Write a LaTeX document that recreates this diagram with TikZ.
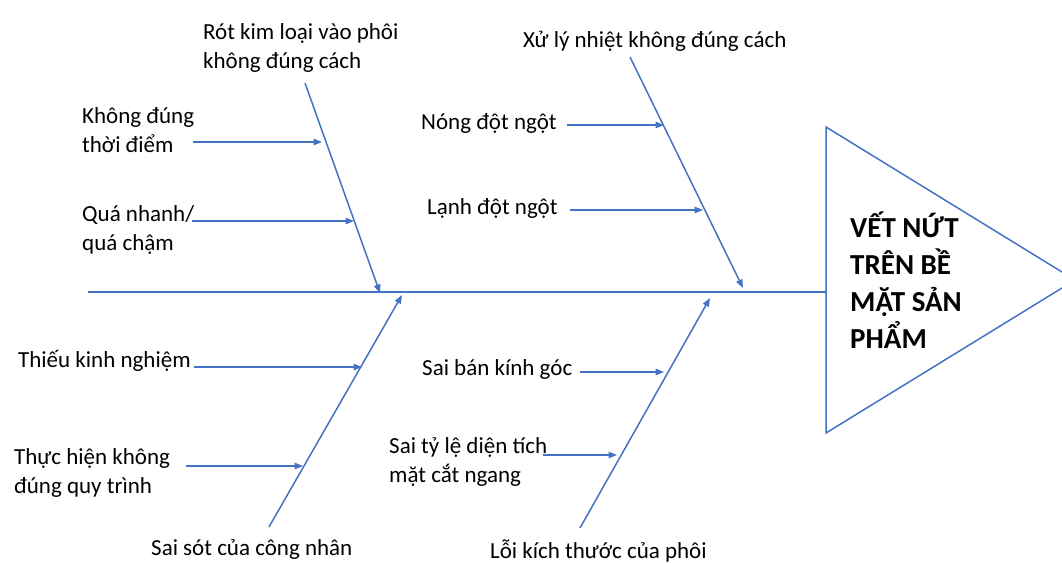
\documentclass[tikz,border=0pt]{standalone}
\usepackage{fontspec}
\setmainfont{Carlito}
\usetikzlibrary{arrows.meta}
\definecolor{bone}{HTML}{4472C4}
\tikzset{
  lbl/.style={anchor=base west, inner sep=0pt, align=left, font=\fontsize{23}{29}\selectfont},
  ttl/.style={anchor=base west, inner sep=0pt, align=left, font=\bfseries\fontsize{29}{37}\selectfont},
  ln/.style={draw=bone, line width=1.5pt},
  arr/.style={ln, -{Triangle[length=8.5pt,width=6.5pt]}}
}
\begin{document}
\begin{tikzpicture}[x=1pt,y=-1pt]
\useasboundingbox (0,0) rectangle (1062,562);
\clip (0,0) rectangle (1062,562);
% head triangle
\coordinate (tt) at (826,127);
\coordinate (tb) at (826,433);
\coordinate (tp) at (1075,280);
\coordinate (tm) at (826,292);
\draw[ln, line join=miter] (tt) -- (tp) -- (tb) -- cycle;
% spine
\coordinate (sp0) at (88,292);
\draw[ln] (sp0) -- (tm);
% bones
\coordinate (b1s) at (305,83);  \coordinate (b1e) at (380,293);
\coordinate (b2s) at (630,57);  \coordinate (b2e) at (743,288);
\coordinate (b3s) at (269,527); \coordinate (b3e) at (402,295);
\coordinate (b4s) at (580,528); \coordinate (b4e) at (710,298);
\draw[arr] (b1s) -- (b1e);
\draw[arr] (b2s) -- (b2e);
\draw[arr] (b3s) -- (b3e);
\draw[arr] (b4s) -- (b4e);
% sub-cause arrows
\coordinate (a11s) at (193,142); \coordinate (a11e) at (322,142);
\coordinate (a12s) at (192,221); \coordinate (a12e) at (354,221);
\coordinate (a21s) at (567,125); \coordinate (a21e) at (664,125);
\coordinate (a22s) at (570,210); \coordinate (a22e) at (703,210);
\coordinate (a31s) at (194,367); \coordinate (a31e) at (362,367);
\coordinate (a32s) at (186,466); \coordinate (a32e) at (303,466);
\coordinate (a41s) at (580,372); \coordinate (a41e) at (664,372);
\coordinate (a42s) at (543,455); \coordinate (a42e) at (617,455);
\foreach \a in {a11,a12,a21,a22,a31,a32,a41,a42}{\draw[arr] (\a s) -- (\a e);}
% labels (base = baseline of last line)
\node[lbl] (rot) at (203,68) {Rót kim loại vào phôi\\không đúng cách};
\node[lbl] (xuly) at (523,47) {Xử lý nhiệt không đúng cách};
\node[lbl] (khong) at (82,152) {Không đúng\\thời điểm};
\node[lbl] (qua) at (82,250) {Quá nhanh/\\quá chậm};
\node[lbl] (nong) at (421,129) {Nóng đột ngột};
\node[lbl] (lanh) at (427,214) {Lạnh đột ngột};
\node[lbl] (thieu) at (18,367) {Thiếu kinh nghiệm};
\node[lbl] (thuc) at (14,493) {Thực hiện không\\đúng quy trình};
\node[lbl] (saisot) at (151,555) {Sai sót của công nhân};
\node[lbl] (saiban) at (422,375) {Sai bán kính góc};
\node[lbl] (saity) at (389,482) {Sai tỷ lệ diện tích\\mặt cắt ngang};
\node[lbl] (loi) at (490,558) {Lỗi kích thước của phôi};
\node[ttl] (title) at (850,348) {VẾT NỨT\\TRÊN BỀ\\MẶT SẢN\\PHẨM};
\end{tikzpicture}
\end{document}
